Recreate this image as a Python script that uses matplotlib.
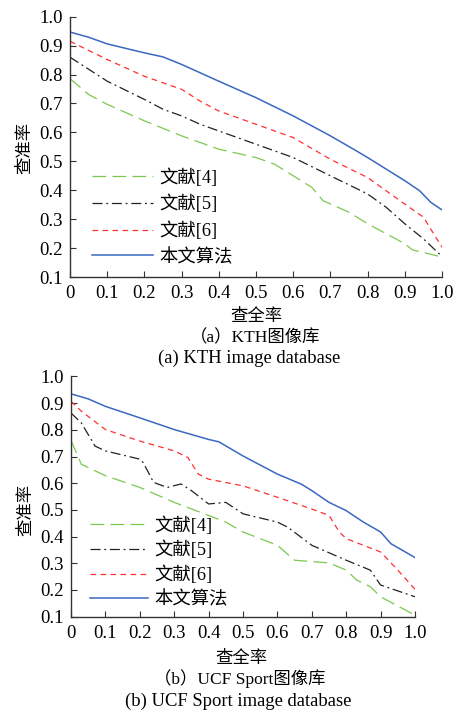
import matplotlib
matplotlib.use("Agg")
import matplotlib.pyplot as plt

# ---------------- data ----------------
series_labels = ["文献[4]", "文献[5]", "文献[6]", "本文算法"]
x_ticks = [0, 0.1, 0.2, 0.3, 0.4, 0.5, 0.6, 0.7, 0.8, 0.9, 1.0]
x_tick_labels = ["0", "0.1", "0.2", "0.3", "0.4", "0.5", "0.6", "0.7", "0.8", "0.9", "1.0"]
y_ticks = [0.1, 0.2, 0.3, 0.4, 0.5, 0.6, 0.7, 0.8, 0.9, 1.0]
y_tick_labels = ["0.1", "0.2", "0.3", "0.4", "0.5", "0.6", "0.7", "0.8", "0.9", "1.0"]

# (a) KTH
a_green_x = [0, 0.05, 0.1, 0.2, 0.3, 0.4, 0.5, 0.55, 0.6, 0.65, 0.68, 0.75, 0.8, 0.9, 0.92, 1.0]
a_green_y = [0.786, 0.731, 0.697, 0.64, 0.588, 0.542, 0.513, 0.49, 0.45, 0.41, 0.364, 0.324, 0.284, 0.215, 0.194, 0.169]
a_black_x = [0, 0.1, 0.2, 0.25, 0.3, 0.35, 0.4, 0.5, 0.6, 0.7, 0.8, 0.85, 0.9, 0.95, 1.0]
a_black_y = [0.86, 0.777, 0.714, 0.68, 0.657, 0.628, 0.605, 0.559, 0.513, 0.45, 0.387, 0.341, 0.284, 0.232, 0.171]
a_red_x = [0, 0.1, 0.2, 0.3, 0.35, 0.4, 0.5, 0.6, 0.7, 0.8, 0.9, 0.95, 1.0]
a_red_y = [0.915, 0.852, 0.794, 0.749, 0.708, 0.674, 0.628, 0.582, 0.507, 0.444, 0.352, 0.307, 0.203]
a_blue_x = [0, 0.05, 0.1, 0.2, 0.25, 0.3, 0.4, 0.5, 0.6, 0.7, 0.77, 0.8, 0.9, 0.94, 0.97, 1.0]
a_blue_y = [0.947, 0.929, 0.906, 0.875, 0.861, 0.835, 0.777, 0.72, 0.657, 0.588, 0.536, 0.513, 0.433, 0.398, 0.358, 0.332]

# (b) UCF Sport
b_green_x = [0, 0.03, 0.1, 0.2, 0.3, 0.4, 0.45, 0.5, 0.6, 0.65, 0.75, 0.8, 0.83, 0.87, 0.9, 1.0]
b_green_y = [0.76, 0.671, 0.628, 0.584, 0.528, 0.479, 0.454, 0.417, 0.367, 0.311, 0.301, 0.274, 0.237, 0.212, 0.174, 0.105]
b_black_x = [0, 0.03, 0.07, 0.1, 0.2, 0.21, 0.24, 0.28, 0.32, 0.35, 0.4, 0.45, 0.5, 0.6, 0.63, 0.7, 0.8, 0.87, 0.9, 1.0]
b_black_y = [0.863, 0.826, 0.739, 0.721, 0.69, 0.677, 0.603, 0.584, 0.597, 0.572, 0.522, 0.528, 0.485, 0.454, 0.435, 0.367, 0.311, 0.274, 0.218, 0.174]
b_red_x = [0, 0.03, 0.1, 0.2, 0.3, 0.34, 0.37, 0.4, 0.5, 0.6, 0.7, 0.75, 0.78, 0.8, 0.9, 0.95, 1.0]
b_red_y = [0.907, 0.87, 0.801, 0.758, 0.721, 0.696, 0.634, 0.615, 0.59, 0.547, 0.503, 0.479, 0.417, 0.392, 0.342, 0.274, 0.202]
b_blue_x = [0, 0.05, 0.1, 0.2, 0.3, 0.4, 0.43, 0.5, 0.6, 0.67, 0.7, 0.75, 0.8, 0.85, 0.9, 0.93, 1.0]
b_blue_y = [0.935, 0.916, 0.888, 0.845, 0.801, 0.764, 0.755, 0.702, 0.634, 0.596, 0.572, 0.528, 0.497, 0.454, 0.417, 0.373, 0.321]

# ---------------- style ----------------
SERIF = ["Liberation Serif", "Noto Sans CJK SC"]
CJK = ["Noto Sans CJK SC", "Liberation Serif"]
W, H = 465, 713

styles = [
    dict(color="#7cc84e", lw=0.9, ls=(0, (11, 5))),
    dict(color="#222222", lw=0.9, ls=(0, (8, 3, 1.5, 3))),
    dict(color="#ff3030", lw=0.9, ls=(0, (4.5, 3.5))),
    dict(color="#3a68c0", lw=1.1, ls="-"),
]

fig = plt.figure(figsize=(W / 100, H / 100), dpi=100)


def fx(px):
    return px / W


def fy(py):
    return 1 - py / H


def setup(ax):
    for s in ["top", "right"]:
        ax.spines[s].set_visible(False)
    for s in ["left", "bottom"]:
        ax.spines[s].set_color("#333333")
        ax.spines[s].set_linewidth(1.0)
    ax.set_xlim(0, 1.0)
    ax.set_ylim(0.1, 1.0)
    ax.set_xticks(x_ticks)
    ax.set_xticklabels(x_tick_labels, family=SERIF, fontsize=13.5)
    ax.set_yticks(y_ticks)
    ax.set_yticklabels(y_tick_labels, family=SERIF, fontsize=13.5)
    ax.tick_params(axis="both", direction="in", length=4, width=0.8, color="#333333")
    ax.tick_params(axis="x", pad=6)
    ax.tick_params(axis="y", pad=5)


panels = [
    dict(rect=(70, 16.7, 442, 277),
         data=[(a_green_x, a_green_y), (a_black_x, a_black_y), (a_red_x, a_red_y), (a_blue_x, a_blue_y)],
         leg=(92, 168), hl=3.3, lsp=0.45,
         ylab=(24, 148), xlab=(256, 316), cap1=(255, 338), cap2=(249, 358),
         cap1_s="（a）KTH图像库", cap2_s="(a) KTH image database"),
    dict(rect=(71, 376.5, 415, 616.5),
         data=[(b_green_x, b_green_y), (b_black_x, b_black_y), (b_red_x, b_red_y), (b_blue_x, b_blue_y)],
         leg=(90, 516), hl=3.15, lsp=0.35,
         ylab=(25, 510), xlab=(241, 658), cap1=(240, 679), cap2=(238, 701),
         cap1_s="（b）UCF Sport图像库", cap2_s="(b) UCF Sport image database"),
]

for p in panels:
    l, t, r, b = p["rect"]
    ax = fig.add_axes([fx(l), fy(b), (r - l) / W, (b - t) / H])
    setup(ax)
    handles = []
    for (xs, ys), st, lab in zip(p["data"], styles, series_labels):
        h, = ax.plot(xs, ys, color=st["color"], lw=st["lw"], linestyle=st["ls"], label=lab)
        handles.append(h)
    leg = ax.legend(handles=handles, loc="upper left",
                    bbox_to_anchor=(fx(p["leg"][0]), fy(p["leg"][1])),
                    bbox_transform=fig.transFigure, frameon=False,
                    borderpad=0, borderaxespad=0, handlelength=p["hl"],
                    handletextpad=0.35, labelspacing=p["lsp"],
                    prop=dict(family=SERIF, size=13.2))
    fig.text(fx(p["ylab"][0]), fy(p["ylab"][1]), "查准率", rotation=90,
             ha="center", va="center", family=CJK, fontsize=12.5)
    fig.text(fx(p["xlab"][0]), fy(p["xlab"][1]), "查全率",
             ha="center", va="center", family=CJK, fontsize=12.5)
    fig.text(fx(p["cap1"][0]), fy(p["cap1"][1]), p["cap1_s"],
             ha="center", va="center", family=SERIF, fontsize=12.5)
    fig.text(fx(p["cap2"][0]), fy(p["cap2"][1]), p["cap2_s"],
             ha="center", va="center", family=SERIF, fontsize=13.4)

fig.savefig("out.png", dpi=100, facecolor="white")
